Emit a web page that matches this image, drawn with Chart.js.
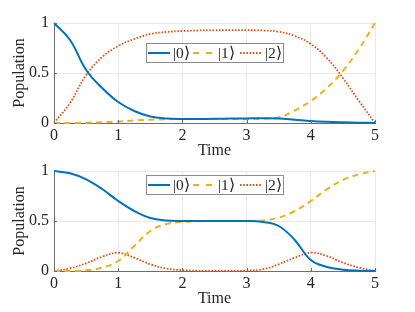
<!DOCTYPE html>
<html>
<head>
<meta charset="utf-8">
<script src="https://cdn.jsdelivr.net/npm/chart.js@4"></script>
<style>
  body { margin: 0; background: #fff; }
  #wrap { position: relative; width: 415px; height: 312px; }
  .box { position: absolute; left: 0; width: 415px; }
</style>
</head>
<body>
<div id="wrap">
  <div class="box" style="top:0;height:160px"><canvas id="topChart"></canvas></div>
  <div class="box" style="top:148px;height:164px"><canvas id="bottomChart"></canvas></div>
</div>
<script>
// time samples
const times = [0, 0.25, 0.5, 0.75, 1, 1.25, 1.5, 1.75, 2, 2.25, 2.5, 2.75, 3, 3.25, 3.5, 3.75, 4, 4.25, 4.5, 4.75, 5];

// upper panel populations
const topPop0 = [1.0, 0.83, 0.53, 0.35, 0.21, 0.12, 0.065, 0.045, 0.04, 0.04, 0.042, 0.045, 0.046, 0.047, 0.045, 0.033, 0.02, 0.012, 0.007, 0.003, 0.0];
const topPop1 = [0.0, 0.0, 0.003, 0.008, 0.015, 0.025, 0.033, 0.038, 0.04, 0.04, 0.04, 0.04, 0.04, 0.043, 0.055, 0.125, 0.22, 0.35, 0.52, 0.74, 1.0];
const topPop2 = [0.0, 0.2, 0.48, 0.66, 0.77, 0.84, 0.89, 0.91, 0.92, 0.925, 0.927, 0.928, 0.928, 0.925, 0.913, 0.87, 0.79, 0.65, 0.45, 0.22, 0.0];

// lower panel populations
const botPop0 = [1.0, 0.977, 0.917, 0.82, 0.70, 0.60, 0.53, 0.505, 0.5, 0.5, 0.5, 0.5, 0.5, 0.49, 0.45, 0.31, 0.11, 0.04, 0.013, 0.003, 0.0];
const botPop1 = [0.0, 0.0, 0.007, 0.033, 0.10, 0.25, 0.40, 0.47, 0.49, 0.497, 0.5, 0.5, 0.5, 0.505, 0.533, 0.60, 0.70, 0.817, 0.91, 0.967, 1.0];
const botPop2 = [0.0, 0.027, 0.077, 0.143, 0.183, 0.133, 0.067, 0.025, 0.008, 0.002, 0.0, 0.0, 0.003, 0.017, 0.067, 0.133, 0.183, 0.15, 0.083, 0.033, 0.0];

const stateLabels = ['|0\u27E9', '|1\u27E9', '|2\u27E9'];
const yTicks = [0, 0.5, 1];

const colors = ['#0072BD', '#EDB120', '#D95319'];
const dashes = [[], [6, 4.5], [1.6, 1.6]];
const legendDashes = [[], [6, 7], [1.6, 1.6]];
const widths = [2, 2, 1.8];
const FONT = 'Liberation Serif';
const FSIZE = 16;
const TXT = '#262626';

function pts(ys) {
    return times.map((t, i) => ({x: t, y: ys[i]}));
}

// boxed legend drawn inside the plot, like matlab
const boxLegend = {
    id: 'boxLegend',
    afterDraw(chart, args, opts) {
        const ctx = chart.ctx;
        const top = chart.chartArea.top + opts.offsetY;
        const left = 146, w = 138, h = 20;
        ctx.save();
        ctx.fillStyle = '#fff';
        ctx.fillRect(left, top, w, h);
        ctx.strokeStyle = '#8c8c8c';
        ctx.lineWidth = 1;
        ctx.strokeRect(left + 0.5, top + 0.5, w - 1, h - 1);
        const mid = top + h / 2;
        const starts = [148, 193, 240];
        ctx.font = '15.5px "' + FONT + '"';
        ctx.textBaseline = 'middle';
        ctx.fillStyle = TXT;
        for (let i = 0; i < 3; i++) {
            ctx.beginPath();
            ctx.strokeStyle = colors[i];
            ctx.lineWidth = widths[i];
            ctx.setLineDash(legendDashes[i]);
            ctx.moveTo(starts[i], mid);
            ctx.lineTo(starts[i] + 22, mid);
            ctx.stroke();
            ctx.setLineDash([]);
            ctx.fillText(stateLabels[i], starts[i] + 25, mid + 1);
        }
        ctx.restore();
    }
};

// inward ticks on the left and bottom axes
const innerTicks = {
    id: 'innerTicks',
    afterDraw(chart) {
        const ctx = chart.ctx;
        const a = chart.chartArea;
        const xs = chart.scales.x, ys = chart.scales.y;
        ctx.save();
        ctx.strokeStyle = '#6e6e6e';
        ctx.lineWidth = 1;
        ctx.beginPath();
        for (let t = 0; t <= 5; t++) {
            const px = Math.round(xs.getPixelForValue(t)) + 0.5;
            ctx.moveTo(px, a.bottom);
            ctx.lineTo(px, a.bottom - 3);
        }
        yTicks.forEach(v => {
            const py = Math.round(ys.getPixelForValue(v)) + 0.5;
            ctx.moveTo(a.left, py);
            ctx.lineTo(a.left + 3, py);
        });
        ctx.stroke();
        ctx.restore();
    }
};

function makeChart(id, series, legendOffset, axisHeight, titlePad) {
    return new Chart(document.getElementById(id), {
        type: 'line',
        data: {
            datasets: series.map((s, i) => ({
                label: stateLabels[i],
                data: pts(s),
                borderColor: colors[i],
                borderWidth: widths[i],
                borderDash: dashes[i],
                pointRadius: 0,
                tension: 0.4,
                fill: false,
                clip: 4
            }))
        },
        options: {
            responsive: true,
            maintainAspectRatio: false,
            animation: false,
            layout: { padding: { left: 0, right: 40, top: 23, bottom: 0 } },
            plugins: {
                legend: { display: false },
                tooltip: { enabled: false },
                boxLegend: { offsetY: legendOffset }
            },
            scales: {
                x: {
                    type: 'linear',
                    min: 0, max: 5,
                    ticks: { stepSize: 1, color: TXT, padding: 3, font: { family: FONT, size: FSIZE }, maxRotation: 0 },
                    grid: { color: '#e8e8e8', drawTicks: false },
                    border: { color: '#6e6e6e' },
                    title: { display: true, text: 'Time', color: TXT, font: { family: FONT, size: FSIZE }, padding: { top: 0, bottom: titlePad } },
                    afterFit: s => { s.height = axisHeight; }
                },
                y: {
                    min: 0, max: 1,
                    afterBuildTicks: s => { s.ticks = yTicks.map(v => ({value: v})); },
                    ticks: { color: TXT, padding: 5, font: { family: FONT, size: FSIZE }, callback: v => String(v) },
                    grid: { color: '#e8e8e8', drawTicks: false },
                    border: { color: '#6e6e6e' },
                    title: { display: true, text: 'Population', color: TXT, font: { family: FONT, size: FSIZE }, padding: { top: 10.5, bottom: 0 } },
                    afterFit: s => { s.width = 54; }
                }
            }
        },
        plugins: [innerTicks, boxLegend]
    });
}

makeChart('topChart', [topPop0, topPop1, topPop2], 20, 37, 0);
makeChart('bottomChart', [botPop0, botPop1, botPop2], 4, 41, 3.4);
</script>
</body>
</html>
